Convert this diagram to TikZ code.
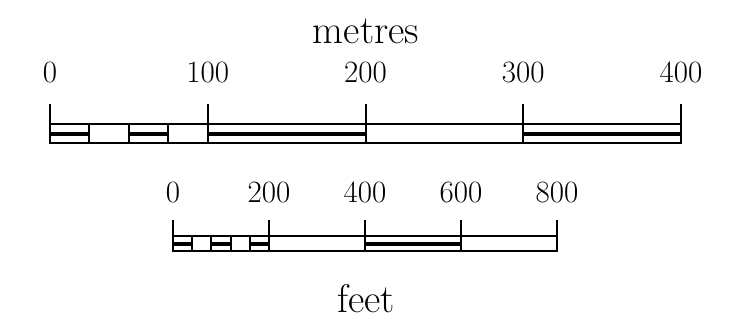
\documentclass[tikz,border=0pt]{standalone}
\usepackage{tikz}

\begin{document}
\begin{tikzpicture}[x=0.5pt, y=-0.5pt, line width=1pt,
        num/.style = {font=\fontsize{15.5}{15.5}\selectfont},
        unit/.style = {font=\fontsize{20}{20}\selectfont, anchor=base},
        band/.style = {line width=2pt}]
    \useasboundingbox (0,0) rectangle (730,328);

    % metres scale
    \node[unit] (metres) at (366,43) {metres};
    \foreach \m in {0,100,200,300,400} {
        \coordinate (mt\m) at ({50+1.5775*\m},104);
        \coordinate (mb\m) at ({50+1.5775*\m},143);
        \node[num] (ml\m) at ({50+1.5775*\m},72) {\m};
        \draw (mt\m) -- (mb\m);
    }
    \draw (50,124) rectangle (681,143);
    \foreach \m in {25,50,75}
        \draw ({50+1.5775*\m},124) -- ({50+1.5775*\m},143);
    \foreach \a/\b in {0/25,50/75,100/200,300/400}
        \draw[band] ({50+1.5775*\a},133.5) -- ({50+1.5775*\b},133.5);

    % feet scale
    \node[unit] (feet) at (366,312) {feet};
    \foreach \f in {0,200,400,600,800} {
        \coordinate (ft\f) at ({173+0.48*\f},220);
        \coordinate (fb\f) at ({173+0.48*\f},251);
        \node[num] (fl\f) at ({173+0.48*\f},192) {\f};
        \draw (ft\f) -- (fb\f);
    }
    \draw (173,236) rectangle (557,251);
    \foreach \f in {40,80,120,160}
        \draw ({173+0.48*\f},236) -- ({173+0.48*\f},251);
    \foreach \a/\b in {0/40,80/120,160/200,400/600}
        \draw[band] ({173+0.48*\a},243.5) -- ({173+0.48*\b},243.5);
\end{tikzpicture}
\end{document}
